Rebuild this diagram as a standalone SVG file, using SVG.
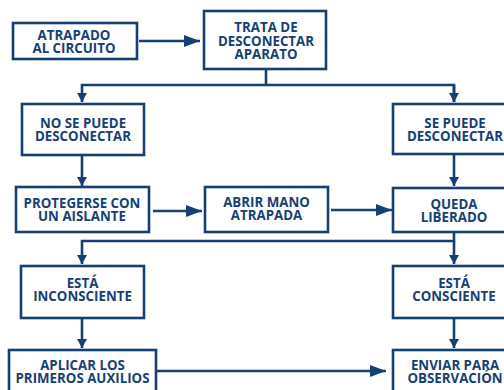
<svg xmlns="http://www.w3.org/2000/svg" width="504" height="390" viewBox="0 0 504 390">
<defs>
<style>
.box{fill:#ffffff;stroke:#163f74;stroke-width:2.6}
.ln{fill:none;stroke:#163f74;stroke-width:2.6}
.t{font-family:"Open Sans","DejaVu Sans",sans-serif;font-weight:bold;font-size:13.3px;fill:#163f74;text-anchor:middle}
</style>
<marker id="ah" markerUnits="userSpaceOnUse" markerWidth="16" markerHeight="12" refX="16" refY="6" orient="auto"><path d="M0,0 L16,6 L0,12 Z" fill="#163f74"/></marker>
<marker id="av" markerUnits="userSpaceOnUse" markerWidth="9" markerHeight="10" refX="9" refY="5" orient="auto"><path d="M0,0 L9,5 L0,10 Z" fill="#163f74"/></marker>
</defs>
<rect width="504" height="390" fill="#ffffff"/>
<g id="connectors">
<line class="ln" x1="139" y1="41" x2="200" y2="41" marker-end="url(#ah)"/>
<polyline class="ln" points="266,69 266,85"/>
<polyline class="ln" points="454,102 454,85 82,85 82,102" marker-end="url(#av)"/>
<line class="ln" x1="454" y1="85" x2="454" y2="102" marker-end="url(#av)"/>
<line class="ln" x1="82" y1="155" x2="82" y2="186" marker-end="url(#av)"/>
<line class="ln" x1="454" y1="154" x2="454" y2="186" marker-end="url(#av)"/>
<line class="ln" x1="153" y1="211" x2="202" y2="211" marker-end="url(#ah)"/>
<line class="ln" x1="331" y1="210" x2="392" y2="210" marker-end="url(#ah)"/>
<polyline class="ln" points="454,232 454,241 82,241 82,264" marker-end="url(#av)"/>
<line class="ln" x1="454" y1="241" x2="454" y2="264" marker-end="url(#av)"/>
<line class="ln" x1="82" y1="318" x2="82" y2="348" marker-end="url(#av)"/>
<line class="ln" x1="454" y1="318" x2="454" y2="348" marker-end="url(#av)"/>
<line class="ln" x1="156" y1="371" x2="386" y2="371" marker-end="url(#ah)"/>
</g>
<g id="atrapado"><rect class="box" x="13" y="23" width="124" height="36"/><text class="t" x="74" y="39.5">ATRAPADO</text><text class="t" x="74" y="52.8">AL CIRCUITO</text></g>
<g id="trata"><rect class="box" x="204" y="11" width="122" height="58"/><text class="t" x="266" y="31.8">TRATA DE</text><text class="t" x="266" y="45.5">DESCONECTAR</text><text class="t" x="266" y="59">APARATO</text></g>
<g id="no-se-puede"><rect class="box" x="22" y="104" width="122" height="51"/><text class="t" x="83" y="128">NO SE PUEDE</text><text class="t" x="83" y="141.3">DESCONECTAR</text></g>
<g id="se-puede"><rect class="box" x="393" y="104" width="124" height="50"/><text class="t" x="455" y="128">SE PUEDE</text><text class="t" x="455" y="141.3">DESCONECTAR</text></g>
<g id="protegerse"><rect class="box" x="16" y="187" width="133" height="45"/><text class="t" x="82" y="208">PROTEGERSE CON</text><text class="t" x="82" y="221.3">UN AISLANTE</text></g>
<g id="abrir"><rect class="box" x="205" y="187" width="123" height="45"/><text class="t" x="266.5" y="207">ABRIR MANO</text><text class="t" x="266.5" y="220.3">ATRAPADA</text></g>
<g id="queda"><rect class="box" x="393" y="188" width="124" height="44"/><text class="t" x="454" y="208.5">QUEDA</text><text class="t" x="454" y="221.8">LIBERADO</text></g>
<g id="inconsciente"><rect class="box" x="21" y="266" width="123" height="52"/><text class="t" x="82.5" y="288">ESTÁ</text><text class="t" x="82.5" y="301.3">INCONSCIENTE</text></g>
<g id="consciente"><rect class="box" x="393" y="266" width="124" height="52"/><text class="t" x="454" y="288">ESTÁ</text><text class="t" x="454" y="301.3">CONSCIENTE</text></g>
<g id="aplicar"><rect class="box" x="9" y="350" width="147" height="50"/><text class="t" x="82.5" y="370">APLICAR LOS</text><text class="t" x="82.5" y="383.3">PRIMEROS AUXILIOS</text></g>
<g id="enviar"><rect class="box" x="393" y="350" width="124" height="50"/><text class="t" x="455" y="370">ENVIAR PARA</text><text class="t" x="455" y="383.3">OBSERVACIÓN</text></g>
</svg>
